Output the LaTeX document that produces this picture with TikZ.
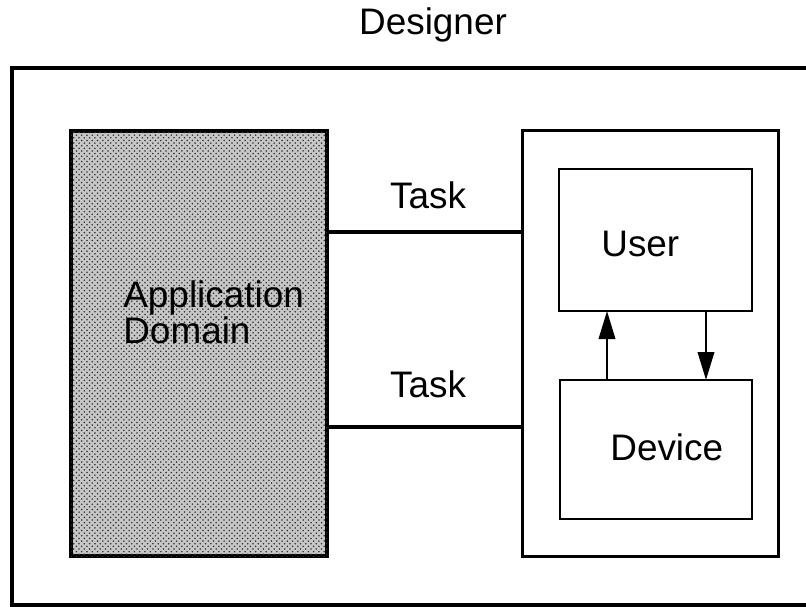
\documentclass[tikz,border=0pt]{standalone}
\usepackage{fontspec}
\setmainfont{Liberation Sans}
\usetikzlibrary{arrows.meta, patterns}

\tikzset{
    frame/.style={draw, line width=#1, inner sep=0pt, outer sep=0pt},
    sized/.style 2 args={minimum width=#1*0.2mm, minimum height=#2*0.2mm},
    lbl/.style={inner sep=0pt, font=\fontsize{21}{25}\selectfont},
    flow/.style={line width=0.4mm, -{Triangle[length=5.6mm,width=3.3mm]}},
    taskline/.style={line width=0.8mm},
    halftone/.style={fill=black!22, postaction={pattern=crosshatch dots, pattern color=black!80}}
}

\begin{document}
\begin{tikzpicture}[x=0.2mm, y=-0.2mm]

        \useasboundingbox (0,0) rectangle (806,607);
        \clip (0,0) rectangle (806,607);

        % boxes
        \node[frame=0.8mm, sized={796}{537}] (outer) at (410,336.5) {};
        \node[frame=0.7mm, sized={256}{425}, halftone] (appdom) at (199,343.5) {};
        \node[frame=0.6mm, sized={256}{426}] (sysbox) at (650,343) {};
        \node[frame=0.5mm, sized={193}{142}] (user) at (655.5,240) {};
        \node[frame=0.5mm, sized={192}{139}] (device) at (656,449.5) {};

        % texts
        \node[lbl, anchor=base] (designer) at (433,35) {Designer};
        \node[lbl, anchor=base west] (appl) at (123,307) {Application};
        \node[lbl, anchor=base west] (domain) at (123,343) {Domain};
        \node[lbl, anchor=base west] (usertxt) at (601,256) {User};
        \node[lbl, anchor=base west] (devtxt) at (610,460) {Device};
        \node[lbl, anchor=base] (taskup) at (428,208) {Task};
        \node[lbl, anchor=base] (tasklow) at (428,397) {Task};

        % connectors
        \coordinate (rowup) at (0,232);
        \coordinate (rowlow) at (0,427);
        \coordinate (upx) at (607,0);
        \coordinate (downx) at (706,0);

        \draw[taskline]
            (appdom.east |- rowup) -- (sysbox.west |- rowup)
            (appdom.east |- rowlow) -- (sysbox.west |- rowlow);

        \draw[flow]
            (upx |- device.north) -- (upx |- user.south);

        \draw[flow]
            (downx |- user.south) -- (downx |- device.north);

    \end{tikzpicture}
\end{document}
